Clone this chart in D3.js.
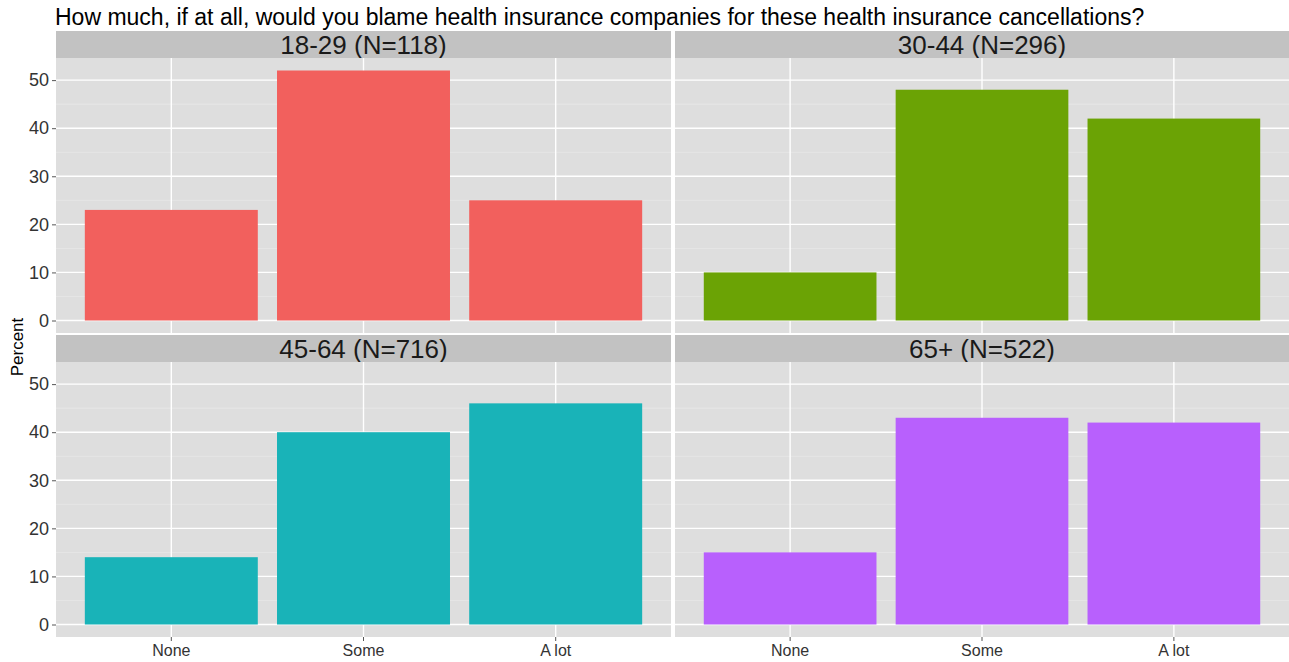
<!DOCTYPE html>
<html>
<head>
<meta charset="utf-8">
<script src="https://cdn.jsdelivr.net/npm/d3@7"></script>
<style>
  html, body { margin: 0; padding: 0; background: #ffffff; }
  svg { display: block; font-family: "Liberation Sans", Arial, Helvetica, sans-serif; }
</style>
</head>
<body>
<svg id="chart" width="1289" height="662"></svg>
<script>
// Survey responses by age group (percent)
const categories = ["None", "Some", "A lot"];
const panels = ["18-29 (N=118)", "30-44 (N=296)", "45-64 (N=716)", "65+ (N=522)"];
const values1829 = [23, 52, 25];
const values3044 = [10, 48, 42];
const values4564 = [14, 40, 46];
const values65 = [15, 43, 42];
const yTicks = [0, 10, 20, 30, 40, 50];
const panelColors = ["#F2605D", "#6BA305", "#19B3B8", "#B860FD"];
const titleText = "How much, if at all, would you blame health insurance companies for these health insurance cancellations?";
const yLabel = "Percent";

const seriesValues = [values1829, values3044, values4564, values65];

const svg = d3.select("#chart");

// Layout of the 2x2 facet grid
const colX = [[56, 671], [675, 1289]];
const rowY = [{ strip: 31, top: 58, bottom: 333 }, { strip: 335, top: 362, bottom: 637 }];

const maxVal = d3.max(seriesValues.flat());
const pad = maxVal * 0.05;
const yDomain = [-pad, maxVal + pad];

svg.append("text")
  .attr("x", 55).attr("y", 25)
  .attr("font-size", 23).attr("fill", "#000")
  .text(titleText);

svg.append("text")
  .attr("transform", "translate(23,347) rotate(-90)")
  .attr("text-anchor", "middle")
  .attr("font-size", 17).attr("fill", "#000")
  .text(yLabel);

panels.forEach((name, i) => {
  const r = Math.floor(i / 2), c = i % 2;
  const [x0, x1] = colX[c];
  const { strip, top, bottom } = rowY[r];

  // 0.9-wide bars with 0.6 expansion at each end of the discrete axis
  const x = d3.scaleBand().domain(categories).range([x0, x1]).paddingInner(0.1).paddingOuter(0.15);
  const xCenter = d => x(d) + x.bandwidth() / 2;
  const y = d3.scaleLinear().domain(yDomain).range([bottom, top]);

  const g = svg.append("g");

  // strip
  g.append("rect").attr("x", x0).attr("y", strip).attr("width", x1 - x0).attr("height", top - strip).attr("fill", "#C2C2C2");
  g.append("text").attr("x", (x0 + x1) / 2).attr("y", strip + 23)
    .attr("text-anchor", "middle").attr("font-size", 26).attr("fill", "#1a1a1a").text(name);

  // panel background
  g.append("rect").attr("x", x0).attr("y", top).attr("width", x1 - x0).attr("height", bottom - top).attr("fill", "#DEDEDE");

  // minor gridlines
  const minor = yTicks.slice(0, -1).map(t => t + 5);
  g.selectAll(".minor").data(minor).enter().append("line")
    .attr("x1", x0).attr("x2", x1).attr("y1", d => y(d)).attr("y2", d => y(d))
    .attr("stroke", "#EAEAEA").attr("stroke-width", 0.7);

  // major gridlines
  g.selectAll(".major").data(yTicks).enter().append("line")
    .attr("x1", x0).attr("x2", x1).attr("y1", d => y(d)).attr("y2", d => y(d))
    .attr("stroke", "#FFFFFF").attr("stroke-width", 1.4);
  g.selectAll(".vgrid").data(categories).enter().append("line")
    .attr("x1", d => xCenter(d)).attr("x2", d => xCenter(d)).attr("y1", top).attr("y2", bottom)
    .attr("stroke", "#FFFFFF").attr("stroke-width", 1.4);

  // bars
  const vals = seriesValues[i];
  g.selectAll(".bar").data(categories).enter().append("rect")
    .attr("x", d => x(d)).attr("width", x.bandwidth())
    .attr("y", (d, k) => y(vals[k])).attr("height", (d, k) => y(0) - y(vals[k]))
    .attr("fill", panelColors[i]);

  // y axis on left column
  if (c === 0) {
    const ax = d3.axisLeft(y).tickValues(yTicks).tickSize(4).tickPadding(3);
    const axg = svg.append("g").attr("transform", `translate(${x0},0)`).call(ax);
    axg.select(".domain").remove();
    axg.selectAll("line").attr("stroke", "#555").attr("stroke-width", 1);
    axg.selectAll("text").attr("font-size", 18).attr("fill", "#333").attr("font-family", "Liberation Sans, Arial, sans-serif");
  }
  // x axis on bottom row
  if (r === 1) {
    const ax = d3.axisBottom(x).tickSize(4).tickPadding(4);
    const axg = svg.append("g").attr("transform", `translate(0,${bottom})`).call(ax);
    axg.select(".domain").remove();
    axg.selectAll("line").attr("stroke", "#555").attr("stroke-width", 1);
    axg.selectAll("text").attr("font-size", 16).attr("fill", "#333").attr("font-family", "Liberation Sans, Arial, sans-serif");
  }
});
</script>
</body>
</html>
